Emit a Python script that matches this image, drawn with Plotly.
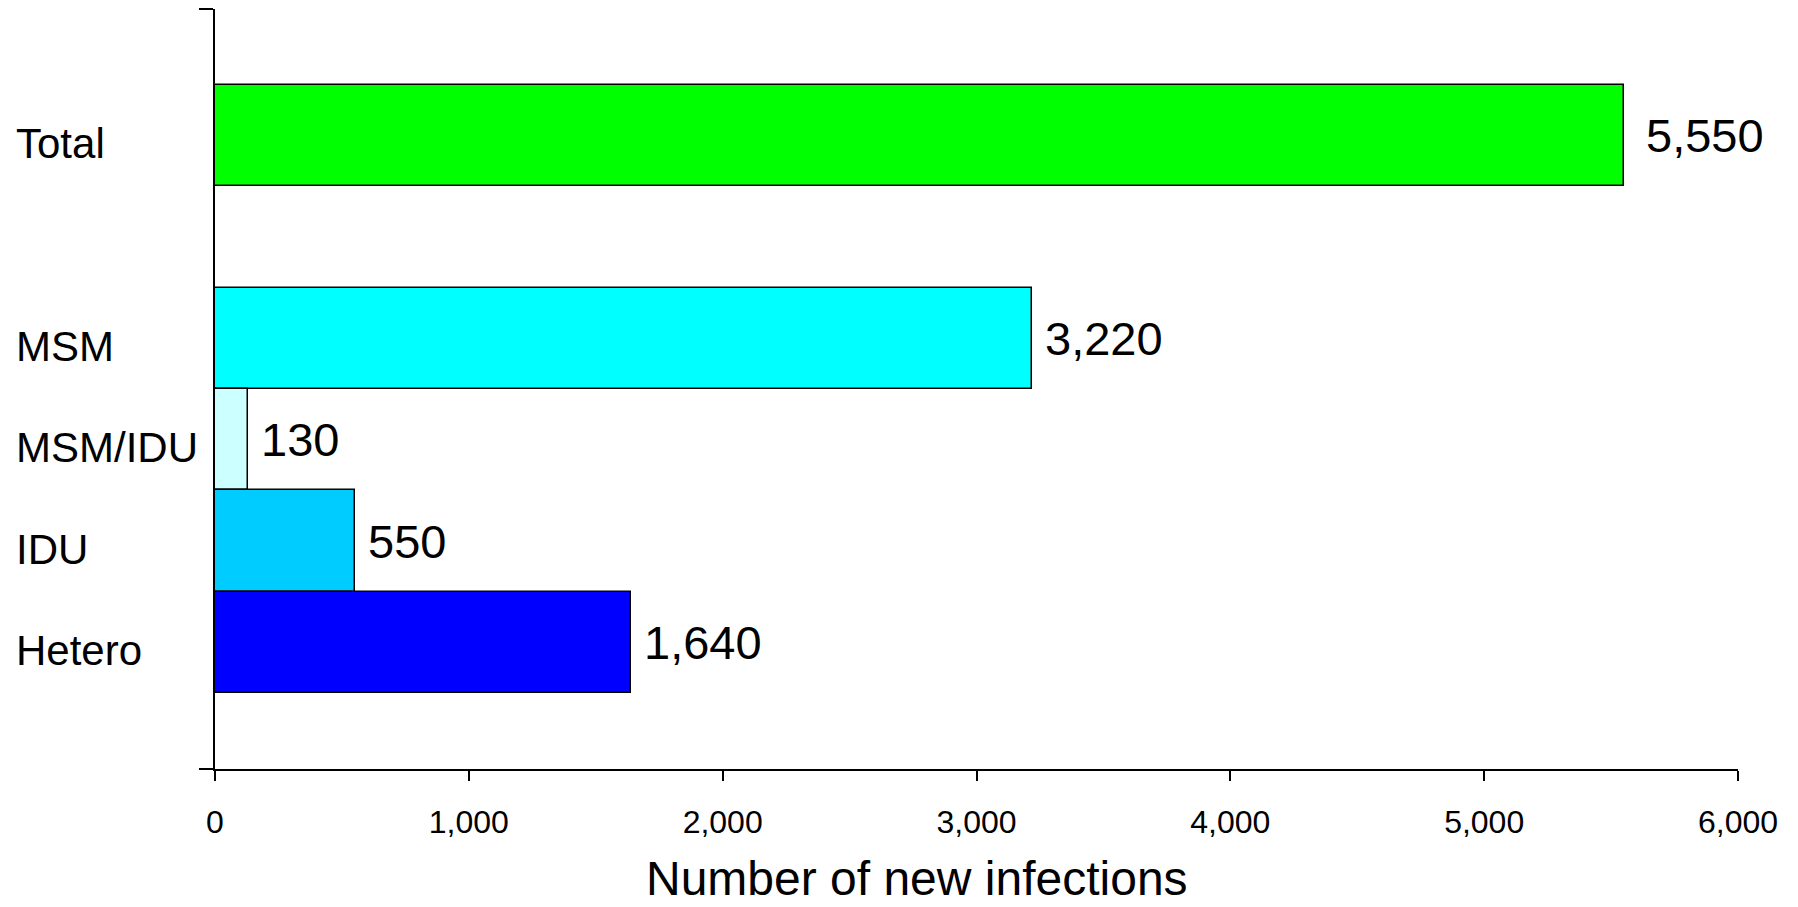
import plotly.graph_objects as go

categories = ["Total", "MSM", "MSM/IDU", "IDU", "Hetero"]
values = [5550, 3220, 130, 550, 1640]
value_labels = ["5,550", "3,220", "130", "550", "1,640"]
colors = ["#00FF00", "#00FFFF", "#CCFFFF", "#00CCFF", "#0000FF"]
x_ticks = [0, 1000, 2000, 3000, 4000, 5000, 6000]
x_title = "Number of new infections"

# vertical slots: bottom-up, with an empty slot between the breakdown and Total
slot = {"Hetero": 0, "IDU": 1, "MSM/IDU": 2, "MSM": 3, "Total": 5}
ys = [slot[c] for c in categories]
label_gap = {"Total": 20}

FONT = "Liberation Sans, Arial, sans-serif"
W, H = 1798, 907
ml, mr, mt, mb = 215, 60, 9, 138
plot_w = W - ml - mr
plot_h = H - mt - mb

fig = go.Figure()
fig.add_trace(go.Bar(
    x=values, y=ys, orientation="h", width=1.0,
    marker=dict(color=colors, line=dict(color="black", width=1.5)),
    hoverinfo="skip", showlegend=False,
))

for c, v, lab, y in zip(categories, values, value_labels, ys):
    fig.add_annotation(x=v, y=y, xref="x", yref="y", text=lab, showarrow=False,
                       xanchor="left", yanchor="middle", xshift=label_gap.get(c, 11),
                       font=dict(family=FONT, size=47, color="black"))
    fig.add_annotation(x=(14 - ml) / plot_w, y=y, xref="paper", yref="y", text=c,
                       showarrow=False, xanchor="left", yanchor="middle", yshift=-8,
                       font=dict(family=FONT, size=42, color="black"))

fig.add_annotation(x=(917 - ml) / plot_w, y=-(878 - (H - mb)) / plot_h,
                   xref="paper", yref="paper",
                   text=x_title, showarrow=False, xanchor="center", yanchor="middle",
                   font=dict(family=FONT, size=48, color="black"))

fig.update_layout(
    width=W, height=H,
    margin=dict(l=ml, r=mr, t=mt, b=mb, autoexpand=False),
    plot_bgcolor="white", paper_bgcolor="white",
    font=dict(family=FONT, color="black"),
    bargap=0,
)
fig.update_xaxes(
    range=[0, 6000], tickvals=x_ticks, tickformat=",d",
    showgrid=False, zeroline=False, automargin=False,
    showline=True, linecolor="black", linewidth=2,
    ticks="outside", ticklen=10, tickwidth=1.5, tickcolor="black",
    tickfont=dict(family=FONT, size=32, color="black"),
    ticklabelstandoff=14,
)
fig.update_yaxes(
    range=[-1.25, 6.25], tickvals=[-1.25, 6.25], showticklabels=False,
    showgrid=False, zeroline=False, automargin=False,
    showline=True, linecolor="black", linewidth=1.5,
    ticks="outside", ticklen=14, tickwidth=1.5, tickcolor="black",
)

fig.write_html("out.html", config={"displayModeBar": False},
               post_script="document.body.style.margin='0';document.body.style.overflow='hidden';")
